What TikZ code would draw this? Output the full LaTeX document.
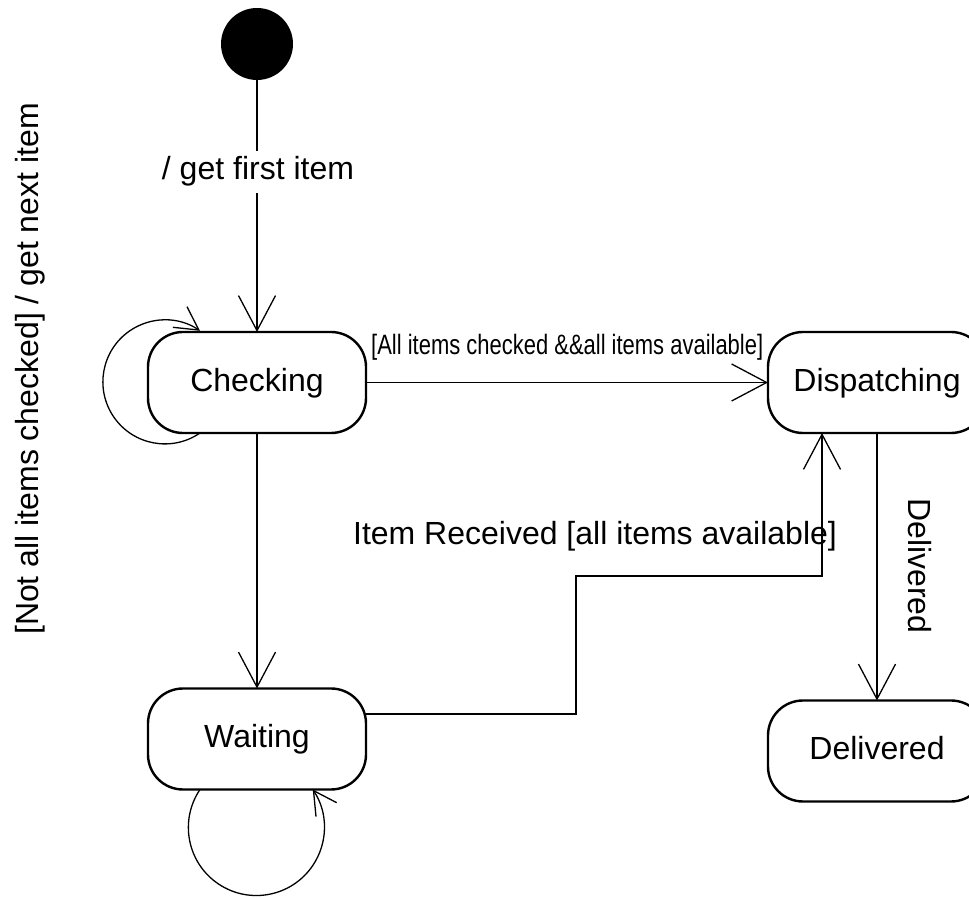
\documentclass[tikz,border=0pt]{standalone}
\usepackage{fontspec}
\usepackage{graphicx}
\setmainfont{Liberation Sans}
\usetikzlibrary{arrows.meta}
\begin{document}
\begin{tikzpicture}[x=1pt,y=1pt,
  state/.style={draw, line width=2.4pt, rounded corners=35pt, fill=white,
    minimum width=218pt, minimum height=101pt, inner sep=0pt, outer sep=0pt,
    text height=23pt, text depth=5pt, font=\fontsize{32}{38}\selectfont},
  trans/.style={line width=1.3pt, -{Straight Barb[length=35pt,width=37pt]}},
  selfloop/.style={line width=1.3pt, -{Straight Barb[length=23pt,width=25pt]}},
  lbl/.style={font=\fontsize{32}{38}\selectfont, inner sep=0pt}]
\useasboundingbox (0,0) rectangle (969,897);
\clip (0,0) rectangle (969,897);

% states
\node[circle, fill=black, minimum size=72pt, inner sep=0pt, outer sep=0pt] (init) at (257,853) {};
\node[state] (checking) at (257,514.5) {Checking};
\node[state] (waiting) at (257,158) {Waiting};
\node[state] (dispatching) at (877,514.5) {Dispatching};
\node[state] (delivered) at (877,146) {Delivered};

% initial transition
\draw[trans] (init) -- (checking);
\node[lbl, anchor=base, fill=white, inner ysep=6pt, inner xsep=1pt] (firstlbl) at (258,717) {/ get first item};

% checking -> dispatching
\draw[trans] (checking) -- (dispatching);
\node[lbl, anchor=base west, font=\fontsize{28}{34}\selectfont] (guardlbl) at (371,542)
  {\resizebox{392pt}{\height}{[All items checked \&\&all items available]}};

% checking -> waiting
\draw[trans] (checking) -- (waiting);

% waiting -> dispatching
\coordinate (bend) at (576,321);
\draw[trans] ([yshift=25pt]waiting.east) -| (bend) -| ([xshift=-55pt]dispatching.south);
\node[lbl, anchor=base] (recvlbl) at (595,352) {Item Received [all items available]};

% dispatching -> delivered
\draw[trans] (dispatching.south) -- (delivered.north);
\node[lbl, anchor=base, rotate=-90] (dellbl) at (908,331) {Delivered};

% self transitions
\draw[selfloop] ([xshift=52pt]checking.south west) arc[start angle=-55.5, end angle=-304.5, radius=62];
\draw[selfloop] ([xshift=52pt]waiting.south west) arc[start angle=146, end angle=394, radius=68];
\node[lbl, anchor=base, rotate=90] (looplbl) at (38,528) {[Not all items checked] / get next item};
\end{tikzpicture}
\end{document}
